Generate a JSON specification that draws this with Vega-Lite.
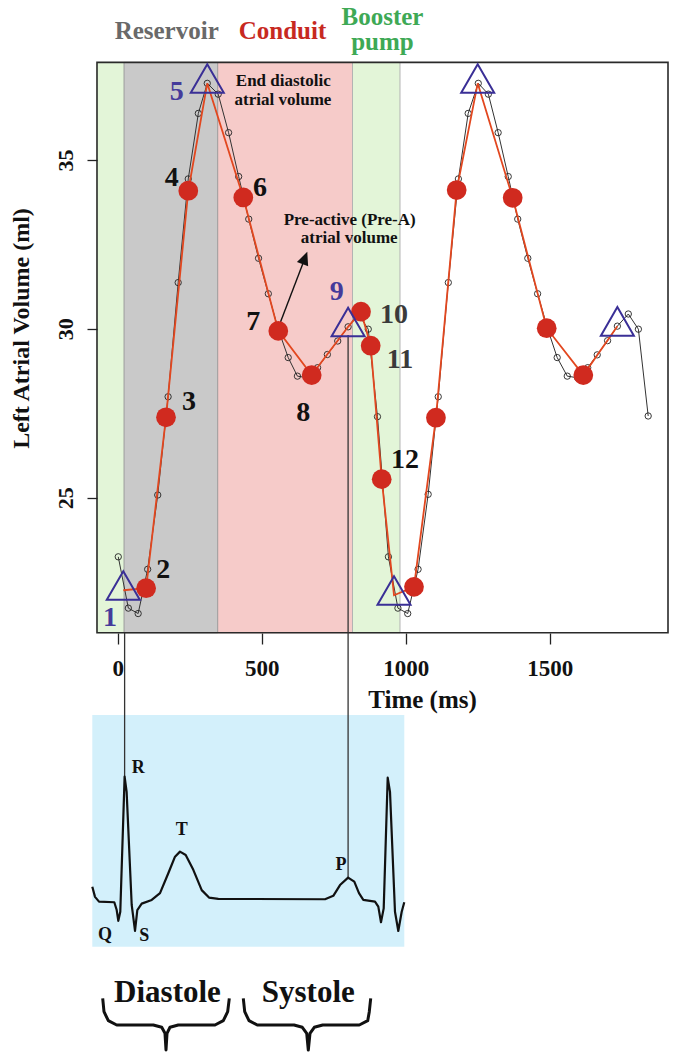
{
  "$schema": "https://vega.github.io/schema/vega-lite/v6.json",
  "width": 675,
  "height": 1059,
  "autosize": "none",
  "padding": 0,
  "background": "white",
  "config": {"view": {"stroke": null}, "font": "Liberation Serif"},
  "resolve": {"scale": {"color": "independent", "stroke": "independent"}},
  "datasets": {
    "regions": [
      {"region": "g1", "t": -71.9, "t2": 22, "v": 21.0, "v2": 37.89},
      {"region": "con", "t": 347.2, "t2": 815.3, "v": 21.0, "v2": 37.89},
      {"region": "g2", "t": 815.3, "t2": 980.2, "v": 21.0, "v2": 37.89},
      {"region": "res", "t": 22, "t2": 347.2, "v": 21.0, "v2": 37.89}
    ],
    "red": [
      {"t": 19.4, "v": 22.26, "kind": "tri"},
      {"t": 98.6, "v": 22.32, "kind": "dot"},
      {"t": 167.7, "v": 27.38, "kind": "dot"},
      {"t": 245.1, "v": 34.09, "kind": "dot"},
      {"t": 311, "v": 37.27, "kind": "tri"},
      {"t": 436.1, "v": 33.89, "kind": "dot"},
      {"t": 557.6, "v": 29.94, "kind": "dot"},
      {"t": 673.6, "v": 28.63, "kind": "dot"},
      {"t": 800, "v": 30.06, "kind": "tri"},
      {"t": 844.8, "v": 30.51, "kind": "dot"},
      {"t": 878.5, "v": 29.5, "kind": "dot"},
      {"t": 916.7, "v": 25.55, "kind": "dot"},
      {"t": 959.4, "v": 22.11, "kind": "tri"},
      {"t": 1028.8, "v": 22.36, "kind": "dot"},
      {"t": 1105, "v": 27.37, "kind": "dot"},
      {"t": 1177, "v": 34.11, "kind": "dot"},
      {"t": 1250, "v": 37.27, "kind": "tri"},
      {"t": 1371.5, "v": 33.88, "kind": "dot"},
      {"t": 1489.6, "v": 30.02, "kind": "dot"},
      {"t": 1616.7, "v": 28.63, "kind": "dot"},
      {"t": 1735, "v": 30.08, "kind": "tri"}
    ],
    "black": [
      {"t": 2, "v": 23.25}, {"t": 37, "v": 21.73}, {"t": 71, "v": 21.57}, {"t": 104, "v": 22.88},
      {"t": 139, "v": 25.08}, {"t": 175, "v": 27.99}, {"t": 210, "v": 31.37}, {"t": 245, "v": 34.44},
      {"t": 280, "v": 36.38}, {"t": 311, "v": 37.27}, {"t": 349, "v": 36.95}, {"t": 385, "v": 35.81},
      {"t": 420, "v": 34.51}, {"t": 455, "v": 33.25}, {"t": 489, "v": 32.09}, {"t": 523, "v": 31.04},
      {"t": 557, "v": 30.0}, {"t": 592, "v": 29.15}, {"t": 624, "v": 28.6}, {"t": 659, "v": 28.55},
      {"t": 694, "v": 28.85}, {"t": 728, "v": 29.24}, {"t": 764, "v": 29.64}, {"t": 800, "v": 30.06},
      {"t": 835, "v": 30.44}, {"t": 870, "v": 29.99}, {"t": 902, "v": 27.4}, {"t": 940, "v": 23.25},
      {"t": 973, "v": 21.73}, {"t": 1007, "v": 21.57}, {"t": 1043, "v": 22.88}, {"t": 1078, "v": 25.1},
      {"t": 1113, "v": 27.99}, {"t": 1148, "v": 31.37}, {"t": 1183, "v": 34.44}, {"t": 1217, "v": 36.38},
      {"t": 1252, "v": 37.27}, {"t": 1287, "v": 36.95}, {"t": 1321, "v": 35.81}, {"t": 1356, "v": 34.51},
      {"t": 1389, "v": 33.25}, {"t": 1424, "v": 32.09}, {"t": 1458, "v": 31.04}, {"t": 1493, "v": 30.0},
      {"t": 1526, "v": 29.15}, {"t": 1561, "v": 28.6}, {"t": 1597, "v": 28.55}, {"t": 1632, "v": 28.85},
      {"t": 1665, "v": 29.23}, {"t": 1701, "v": 29.65}, {"t": 1735, "v": 30.08}, {"t": 1773, "v": 30.44},
      {"t": 1808, "v": 29.99}, {"t": 1842, "v": 27.42}
    ],
    "ecg": [
      {"t": -88.2, "v": 13.48}, {"t": -78.8, "v": 13.18}, {"t": -64.9, "v": 13.04}, {"t": -11.8, "v": 13.02},
      {"t": -3.5, "v": 12.79}, {"t": 2.1, "v": 12.47}, {"t": 9, "v": 12.74}, {"t": 24, "v": 16.74},
      {"t": 31, "v": 16.29}, {"t": 48.6, "v": 12.94}, {"t": 60.1, "v": 12.17}, {"t": 68.1, "v": 12.79},
      {"t": 83.3, "v": 12.98}, {"t": 118.1, "v": 13.09}, {"t": 146.9, "v": 13.29}, {"t": 175.7, "v": 13.88},
      {"t": 199, "v": 14.37}, {"t": 216.3, "v": 14.52}, {"t": 236.1, "v": 14.42}, {"t": 262.5, "v": 13.98},
      {"t": 291.7, "v": 13.38}, {"t": 317, "v": 13.16}, {"t": 349.3, "v": 13.12}, {"t": 719.8, "v": 13.11},
      {"t": 748.6, "v": 13.21}, {"t": 771.9, "v": 13.53}, {"t": 800, "v": 13.75}, {"t": 821.5, "v": 13.63},
      {"t": 837.8, "v": 13.29}, {"t": 852.8, "v": 13.09}, {"t": 893.4, "v": 13.04}, {"t": 904.9, "v": 12.89},
      {"t": 914.2, "v": 12.43}, {"t": 923.6, "v": 12.84}, {"t": 937.5, "v": 16.71}, {"t": 945.5, "v": 16.29},
      {"t": 962.8, "v": 12.74}, {"t": 974.3, "v": 12.17}, {"t": 986.1, "v": 12.74}, {"t": 995.1, "v": 13.02}
    ],
    "braces": [
      {"b": "d", "o": 1, "t": -52.1, "v": 10.176}, {"b": "d", "o": 2, "t": -47.6, "v": 9.78},
      {"b": "d", "o": 3, "t": -32.6, "v": 9.513}, {"b": "d", "o": 4, "t": -3.5, "v": 9.386},
      {"b": "d", "o": 5, "t": 123.6, "v": 9.386}, {"b": "d", "o": 6, "t": 152.8, "v": 9.318},
      {"b": "d", "o": 7, "t": 164.2, "v": 9.14}, {"b": "d", "o": 8, "t": 167.7, "v": 8.645},
      {"b": "d", "o": 9, "t": 171.2, "v": 9.14}, {"b": "d", "o": 10, "t": 181.6, "v": 9.318},
      {"b": "d", "o": 11, "t": 210.4, "v": 9.386}, {"b": "d", "o": 12, "t": 337.8, "v": 9.386},
      {"b": "d", "o": 13, "t": 366.7, "v": 9.513}, {"b": "d", "o": 14, "t": 381.9, "v": 9.78},
      {"b": "d", "o": 15, "t": 387.5, "v": 10.176},
      {"b": "s", "o": 1, "t": 436.1, "v": 10.176}, {"b": "s", "o": 2, "t": 441, "v": 9.78},
      {"b": "s", "o": 3, "t": 455.9, "v": 9.513}, {"b": "s", "o": 4, "t": 484.7, "v": 9.386},
      {"b": "s", "o": 5, "t": 612.2, "v": 9.386}, {"b": "s", "o": 6, "t": 641, "v": 9.318},
      {"b": "s", "o": 7, "t": 656.3, "v": 9.14}, {"b": "s", "o": 8, "t": 661.8, "v": 8.645},
      {"b": "s", "o": 9, "t": 667.7, "v": 9.14}, {"b": "s", "o": 10, "t": 682.6, "v": 9.318},
      {"b": "s", "o": 11, "t": 711.8, "v": 9.386}, {"b": "s", "o": 12, "t": 838.9, "v": 9.386},
      {"b": "s", "o": 13, "t": 868.1, "v": 9.513}, {"b": "s", "o": 14, "t": 873.6, "v": 9.78},
      {"b": "s", "o": 15, "t": 878.5, "v": 10.176}
    ]
  },
  "encoding": {
    "x": {
      "field": "t", "type": "quantitative",
      "scale": {"domain": [-408.7, 1935.1], "nice": false, "zero": false},
      "axis": {
        "values": [0, 500, 1000, 1500], "format": "d", "orient": "bottom", "offset": -426, "zindex": 2,
        "domain": false, "grid": false, "tickSize": 11, "tickColor": "#222", "tickWidth": 1.3,
        "labelFont": "Liberation Serif", "labelFontWeight": "bold", "labelFontSize": 23, "labelColor": "#111",
        "labelPadding": 31, "labelBaseline": "alphabetic", "labelAlign": "center", "labelFlush": false, "labelOverlap": false,
        "title": "Time (ms)", "titleFont": "Liberation Serif", "titleFontWeight": "bold", "titleFontSize": 25,
        "titleColor": "#111", "titleX": 422, "titleY": 74, "titleBaseline": "alphabetic", "titleAlign": "center"
      }
    },
    "y": {
      "field": "v", "type": "quantitative",
      "scale": {"domain": [8.379, 39.738], "nice": false, "zero": false},
      "axis": {
        "values": [25, 30, 35], "orient": "left", "offset": -97, "zindex": 2,
        "domain": false, "grid": false, "tickSize": 10, "tickColor": "#222", "tickWidth": 1.3,
        "labelFont": "Liberation Serif", "labelFontWeight": "bold", "labelFontSize": 22, "labelColor": "#111",
        "labelAngle": 270, "labelAlign": "center", "labelBaseline": "alphabetic", "labelPadding": 15, "labelOverlap": false,
        "title": "Left Atrial Volume (ml)", "titleFont": "Liberation Serif", "titleFontWeight": "bold", "titleFontSize": 24,
        "titleColor": "#111", "titleAngle": 270, "titleAlign": "center", "titleBaseline": "alphabetic", "titleX": -69, "titleY": 328
      }
    }
  },
  "layer": [
    {
      "data": {"name": "regions"},
      "mark": {"type": "rect", "strokeWidth": 1},
      "encoding": {
        "x2": {"field": "t2"}, "y2": {"field": "v2"},
        "color": {"field": "region", "type": "nominal", "legend": null,
          "scale": {"domain": ["g1", "res", "con", "g2"], "range": ["#e3f5d8", "#c9c9c9", "#f6cbc9", "#e3f5d8"]}},
        "stroke": {"field": "region", "type": "nominal", "legend": null,
          "scale": {"domain": ["g1", "res", "con", "g2"], "range": ["#e3f5d8", "#9c9c9c", "#f6cbc9", "#b3b3b3"]}}
      }
    },
    {
      "data": {"values": [{"t": -88.2, "t2": 995.1, "v": 11.7, "v2": 18.565}]},
      "mark": {"type": "rect", "color": "#d3f0fb"},
      "encoding": {"x2": {"field": "t2"}, "y2": {"field": "v2"}}
    },
    {
      "data": {"values": [{"t": -71.9, "t2": 1910.8, "v": 21.0, "v2": 37.89}]},
      "mark": {"type": "rect", "filled": false, "stroke": "#2a2a2a", "strokeWidth": 1.6},
      "encoding": {"x2": {"field": "t2"}, "y2": {"field": "v2"}}
    },
    {
      "data": {"values": [{"t": 24, "v": 21.0, "v2": 16.74}, {"t": 800, "v": 29.82, "v2": 13.75}]},
      "mark": {"type": "rule", "color": "#333", "strokeWidth": 1.3},
      "encoding": {"y2": {"field": "v2"}}
    },
    {
      "data": {"values": [{"t": 565.3, "v": 30.2}, {"t": 650.3, "v": 32.1}]},
      "mark": {"type": "line", "color": "#111", "strokeWidth": 1.4}
    },
    {
      "data": {"values": [{"t": 648.3, "v": 32.06}]},
      "mark": {"type": "point", "shape": "M0,-1L-0.75,0.65L0.75,0.65Z", "size": 256, "angle": 21, "filled": true, "color": "#111", "opacity": 1}
    },
    {
      "data": {"name": "black"},
      "mark": {"type": "line", "color": "#333", "strokeWidth": 1}
    },
    {
      "data": {"name": "black"},
      "mark": {"type": "point", "shape": "circle", "size": 40, "filled": false, "color": "#222", "strokeWidth": 0.9, "opacity": 1}
    },
    {
      "data": {"name": "red"},
      "mark": {"type": "line", "color": "#e2471f", "strokeWidth": 1.8}
    },
    {
      "data": {"name": "red"},
      "transform": [{"filter": "datum.kind == 'dot'"}],
      "mark": {"type": "point", "shape": "circle", "size": 390, "filled": true, "color": "#d02a1f", "opacity": 1}
    },
    {
      "data": {"name": "red"},
      "transform": [{"filter": "datum.kind == 'tri'"}],
      "mark": {"type": "point", "shape": "M0,-1.155L-1,0.577L1,0.577Z", "size": 1089, "filled": false, "color": "#3a2f96", "strokeWidth": 2, "opacity": 1}
    },
    {
      "data": {"values": [
        {"lab": "1", "t": -26.7, "v": 21.43, "grp": "b"},
        {"lab": "2", "t": 158.3, "v": 22.86, "grp": "k"},
        {"lab": "3", "t": 247.6, "v": 27.84, "grp": "k"},
        {"lab": "4", "t": 187.5, "v": 34.46, "grp": "k"},
        {"lab": "5", "t": 204.9, "v": 37.0, "grp": "b"},
        {"lab": "6", "t": 494.1, "v": 34.16, "grp": "k"},
        {"lab": "7", "t": 470.8, "v": 30.21, "grp": "k"},
        {"lab": "8", "t": 644.4, "v": 27.5, "grp": "k"},
        {"lab": "9", "t": 760.4, "v": 31.1, "grp": "b"},
        {"lab": "10", "t": 959.4, "v": 30.41, "grp": "d"},
        {"lab": "11", "t": 980.2, "v": 29.08, "grp": "d"},
        {"lab": "12", "t": 997.6, "v": 26.12, "grp": "k"}
      ]},
      "mark": {"type": "text", "font": "Liberation Serif", "fontWeight": "bold", "fontSize": 28, "align": "center", "baseline": "middle"},
      "encoding": {
        "text": {"field": "lab"},
        "color": {"field": "grp", "type": "nominal", "legend": null,
          "scale": {"domain": ["b", "k", "d"], "range": ["#453b9b", "#111111", "#3a3a3a"]}}
      }
    },
    {
      "data": {"values": [
        {"lab": "Reservoir", "t": 170.1, "v": 38.574, "ph": "res"},
        {"lab": "Conduit", "t": 572.2, "v": 38.574, "ph": "con"},
        {"lab": "Booster", "t": 919.4, "v": 39.0, "ph": "boo"},
        {"lab": "pump", "t": 919.4, "v": 38.257, "ph": "boo"}
      ]},
      "mark": {"type": "text", "font": "Liberation Serif", "fontWeight": "bold", "fontSize": 25, "align": "center", "baseline": "alphabetic"},
      "encoding": {
        "text": {"field": "lab"},
        "color": {"field": "ph", "type": "nominal", "legend": null,
          "scale": {"domain": ["res", "con", "boo"], "range": ["#696969", "#c7291f", "#3ea955"]}}
      }
    },
    {
      "data": {"values": [
        {"lab": "End diastolic", "t": 575, "v": 37.19},
        {"lab": "atrial volume", "t": 574, "v": 36.63},
        {"lab": "Pre-active (Pre-A)", "t": 805.6, "v": 33.08},
        {"lab": "atrial volume", "t": 803.8, "v": 32.53}
      ]},
      "mark": {"type": "text", "font": "Liberation Serif", "fontWeight": "bold", "fontSize": 17, "align": "center", "baseline": "alphabetic", "color": "#111"},
      "encoding": {"text": {"field": "lab"}}
    },
    {
      "data": {"name": "ecg"},
      "mark": {"type": "line", "color": "#111", "strokeWidth": 2.2, "strokeJoin": "round"}
    },
    {
      "data": {"values": [
        {"lab": "R", "t": 71.5, "v": 16.99},
        {"lab": "T", "t": 222.2, "v": 15.16},
        {"lab": "P", "t": 775.3, "v": 14.12},
        {"lab": "Q", "t": -44.1, "v": 12.05},
        {"lab": "S", "t": 92.4, "v": 12.02}
      ]},
      "mark": {"type": "text", "font": "Liberation Serif", "fontWeight": "bold", "fontSize": 18, "align": "center", "baseline": "middle", "color": "#111"},
      "encoding": {"text": {"field": "lab"}}
    },
    {
      "data": {"name": "braces"},
      "mark": {"type": "line", "color": "#111", "strokeWidth": 3, "strokeJoin": "round"},
      "encoding": {"detail": {"field": "b"}, "order": {"field": "o"}}
    },
    {
      "data": {"values": [
        {"lab": "Diastole", "t": 172.9, "v": 10.075},
        {"lab": "Systole", "t": 661.8, "v": 10.075}
      ]},
      "mark": {"type": "text", "font": "Liberation Serif", "fontWeight": "bold", "fontSize": 31, "align": "center", "baseline": "alphabetic", "color": "#111"},
      "encoding": {"text": {"field": "lab"}}
    }
  ]
}
